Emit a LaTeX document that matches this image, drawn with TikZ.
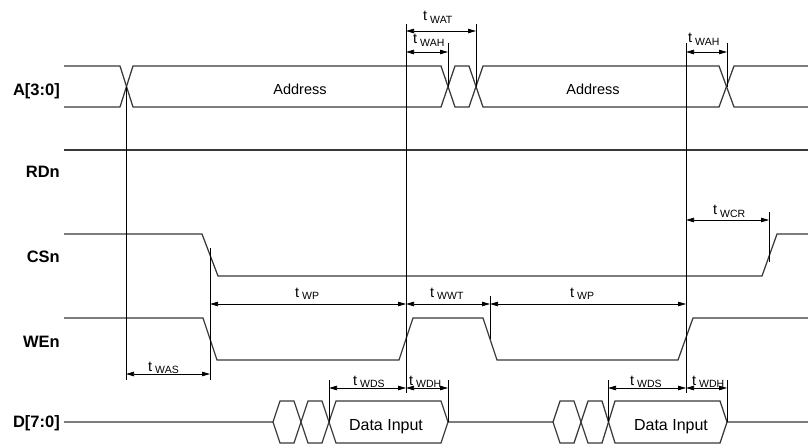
\documentclass[tikz,border=0pt]{standalone}
\usepackage{fontspec}
\setmainfont{Liberation Sans}
\usetikzlibrary{arrows.meta}
\newcommand\tlab[1]{{\fontsize{14.5}{15}\selectfont t}\hspace{3pt}\raisebox{-2.5pt}{\fontsize{10.5}{11}\selectfont #1}}
\begin{document}
\begin{tikzpicture}[x=1pt,y=-1pt,
  sig/.style={draw=black!78, line width=1.25pt, line join=miter},
  guide/.style={draw=black, line width=0.75pt},
  dim/.style={draw=black, line width=0.75pt, {Triangle[length=8pt,width=4.5pt]}-{Triangle[length=8pt,width=4.5pt]}},
  siglab/.style={font=\bfseries\fontsize{16.5}{18}\selectfont, anchor=base east, inner sep=0pt},
  tl/.style={anchor=base west, inner sep=0pt},
  val/.style={anchor=base, inner sep=0pt}]
\useasboundingbox (0,0) rectangle (808,446);

% signal names
\node[siglab] (lA)  at (60,96)  {A[3:0]};
\node[siglab] (lRD) at (60,178) {RDn};
\node[siglab] (lCS) at (60,263) {CSn};
\node[siglab] (lWE) at (60,347) {WEn};
\node[siglab] (lD)  at (60,427) {D[7:0]};

% A[3:0]
\draw[sig] (64,66)--(120,66)--(133,107)--(441,107)--(455,66)--(469,66)--(483,107)--(719,107)--(734,66)--(808,66);
\draw[sig] (64,107)--(120,107)--(133,66)--(441,66)--(455,107)--(469,107)--(483,66)--(719,66)--(734,107)--(808,107);
\node[val, font=\fontsize{14.5}{16}\selectfont] (addr1) at (300,95) {Address};
\node[val, font=\fontsize{14.5}{16}\selectfont] (addr2) at (593,95) {Address};

% RDn
\draw[sig] (64,150)--(808,150);

% CSn
\draw[sig] (64,234)--(202,234)--(218,276)--(762,276)--(777,234)--(808,234);

% WEn
\draw[sig] (64,318)--(203,318)--(217,360)--(399,360)--(413,318)--(483,318)--(497,360)--(678,360)--(693,318)--(808,318);

% D[7:0]
\draw[sig] (64,422)--(273,422)--(280,401)--(294,401)--(308,443)--(322,443)--(336,401)--(441,401)--(448,422)
  --(553,422)--(560,401)--(574,401)--(588,443)--(602,443)--(615,401)--(720,401)--(727,422)--(808,422);
\draw[sig] (273,422)--(280,443)--(294,443)--(308,401)--(322,401)--(336,443)--(441,443)--(448,422);
\draw[sig] (553,422)--(560,443)--(574,443)--(588,401)--(602,401)--(615,443)--(720,443)--(727,422);
\node[val, font=\fontsize{16}{18}\selectfont] (din1) at (386,430) {Data Input};
\node[val, font=\fontsize{16}{18}\selectfont] (din2) at (671,430) {Data Input};

% guide lines
\coordinate (gAt) at (126,87);  \coordinate (gAb) at (126,380);
\coordinate (gBt) at (210,248); \coordinate (gBb) at (210,380);
\coordinate (gCt) at (406,24);  \coordinate (gCb) at (406,393);
\coordinate (gDt) at (448,43);  \coordinate (gDb) at (448,87);
\coordinate (gEt) at (476,24);  \coordinate (gEb) at (476,87);
\coordinate (gFt) at (490,296); \coordinate (gFb) at (490,339);
\coordinate (gGt) at (686,43);  \coordinate (gGb) at (686,393);
\coordinate (gHt) at (727,43);  \coordinate (gHb) at (727,87);
\coordinate (gIt) at (769,212); \coordinate (gIb) at (769,262);
\coordinate (gJt) at (329,380); \coordinate (gJb) at (329,422);
\coordinate (gKt) at (448,380); \coordinate (gKb) at (448,422);
\coordinate (gLt) at (608,380); \coordinate (gLb) at (608,422);
\coordinate (gMt) at (727,380); \coordinate (gMb) at (727,422);
\foreach \g in {A,B,C,D,E,F,G,H,I,J,K,L,M} \draw[guide] (g\g t) -- (g\g b);

% dimension rows
\coordinate (yWAT) at (0,31);
\coordinate (yWAH) at (0,52);
\coordinate (yWCR) at (0,220);
\coordinate (yWP)  at (0,304);
\coordinate (yWAS) at (0,374);
\coordinate (yWD)  at (0,388);

\draw[dim] (gCt |- yWAT) -- (gEt |- yWAT);
\draw[dim] (gCt |- yWAH) -- (gDt |- yWAH);
\draw[dim] (gGt |- yWAH) -- (gHt |- yWAH);
\draw[dim] (gGt |- yWCR) -- (gIt |- yWCR);
\draw[dim] (gBt |- yWP) -- (gCt |- yWP);
\draw[dim] (gCt |- yWP) -- (gFt |- yWP);
\draw[dim] (gFt |- yWP) -- (gGt |- yWP);
\draw[dim] (gAt |- yWAS) -- (gBt |- yWAS);
\draw[dim] (gJt |- yWD) -- (gCt |- yWD);
\draw[dim] (gCt |- yWD) -- (gKt |- yWD);
\draw[dim] (gLt |- yWD) -- (gGt |- yWD);
\draw[dim] (gGt |- yWD) -- (gMt |- yWD);

% timing labels
\node[tl] (tWAT)  at (423,21)  {\tlab{WAT}};
\node[tl] (tWAH1) at (413,44)  {\tlab{WAH}};
\node[tl] (tWAH2) at (688,43)  {\tlab{WAH}};
\node[tl] (tWCR)  at (713,215) {\tlab{WCR}};
\node[tl] (tWP1)  at (295,297) {\tlab{WP}};
\node[tl] (tWWT)  at (430,297) {\tlab{WWT}};
\node[tl] (tWP2)  at (570,297) {\tlab{WP}};
\node[tl] (tWAS)  at (148,371) {\tlab{WAS}};
\node[tl] (tWDS1) at (353,385) {\tlab{WDS}};
\node[tl] (tWDH1) at (409,385) {\tlab{WDH}};
\node[tl] (tWDS2) at (630,385) {\tlab{WDS}};
\node[tl] (tWDH2) at (692,385) {\tlab{WDH}};
\end{tikzpicture}
\end{document}
